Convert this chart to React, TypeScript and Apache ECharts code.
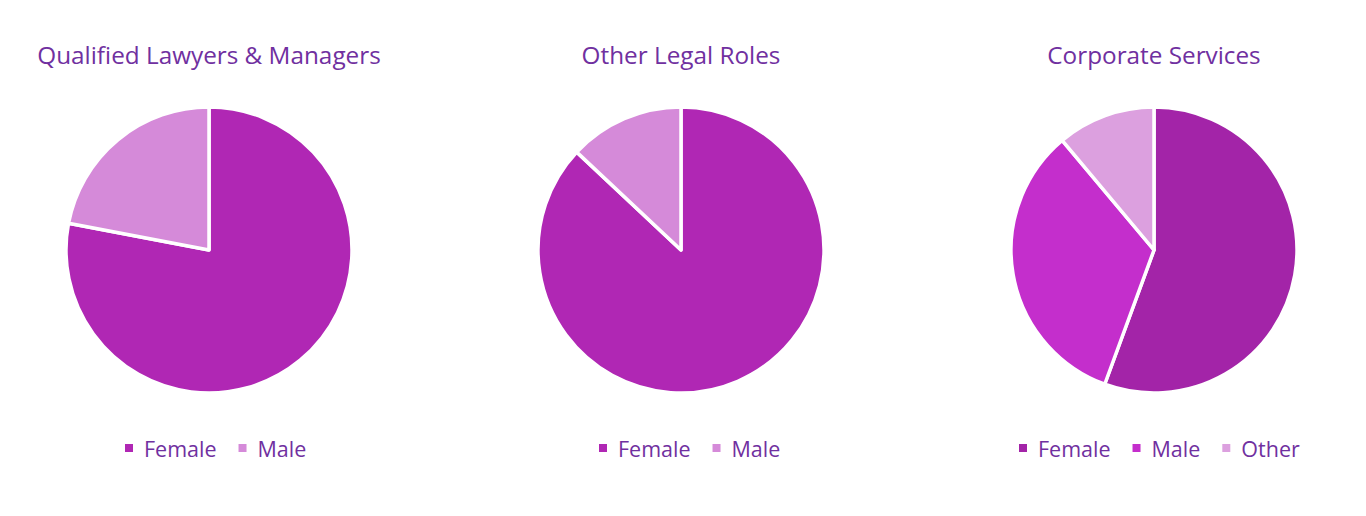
import React, { useEffect, useRef } from "react";
import * as echarts from "echarts";

const titles = ["Qualified Lawyers & Managers", "Other Legal Roles", "Corporate Services"];
const categories1 = ["Female", "Male"];
const values1 = [78, 22];
const categories2 = ["Female", "Male"];
const values2 = [87, 13];
const categories3 = ["Female", "Male", "Other"];
const values3 = [55.6, 33.3, 11.1];

const colors1 = ["#B027B4", "#D58AD9"];
const colors2 = ["#B027B4", "#D58AD9"];
const colors3 = ["#A324A8", "#C42ECC", "#DCA0DF"];

const centersX = [209, 681, 1154];
const legendLeft = [123, 597, 1017];
const textColor = "#7030A0";
const fontFamily = "'Open Sans', sans-serif";

export default function App() {
  const ref = useRef<HTMLDivElement>(null);
  useEffect(() => {
    const chart = echarts.init(ref.current!, undefined, { renderer: "svg" });
    const cats = [categories1, categories2, categories3];
    const vals = [values1, values2, values3];
    const cols = [colors1, colors2, colors3];
    chart.setOption({
      animation: false,
      backgroundColor: "#ffffff",
      title: titles.map((t, i) => ({
        text: t,
        left: centersX[i],
        top: 42,
        padding: 0,
        textAlign: "center",
        textStyle: { color: textColor, fontFamily, fontSize: 24.3, fontWeight: "normal" },
      })),
      legend: cats.map((c, i) => ({
        left: legendLeft[i],
        top: 437,
        padding: 0,
        icon: "rect",
        itemWidth: 10,
        itemHeight: 10,
        itemGap: 20,
        selectedMode: false,
        data: c.map((n, j) => ({ name: n, itemStyle: { color: cols[i][j] } })),
        textStyle: { color: textColor, fontFamily, fontSize: 21.5, padding: [0, 0, 0, 5] },
      })),
      series: cats.map((c, i) => ({
        type: "pie",
        center: [centersX[i], 250],
        radius: 143,
        startAngle: 90,
        clockwise: true,
        label: { show: false },
        labelLine: { show: false },
        emphasis: { disabled: true },
        itemStyle: { borderColor: "#ffffff", borderWidth: 3.5 },
        data: c.map((n, j) => ({ name: n, value: vals[i][j], itemStyle: { color: cols[i][j] } })),
      })),
    });
    return () => chart.dispose();
  }, []);
  return <div ref={ref} style={{ position: "fixed", left: 0, top: 0, width: 1366, height: 516 }} />;
}
